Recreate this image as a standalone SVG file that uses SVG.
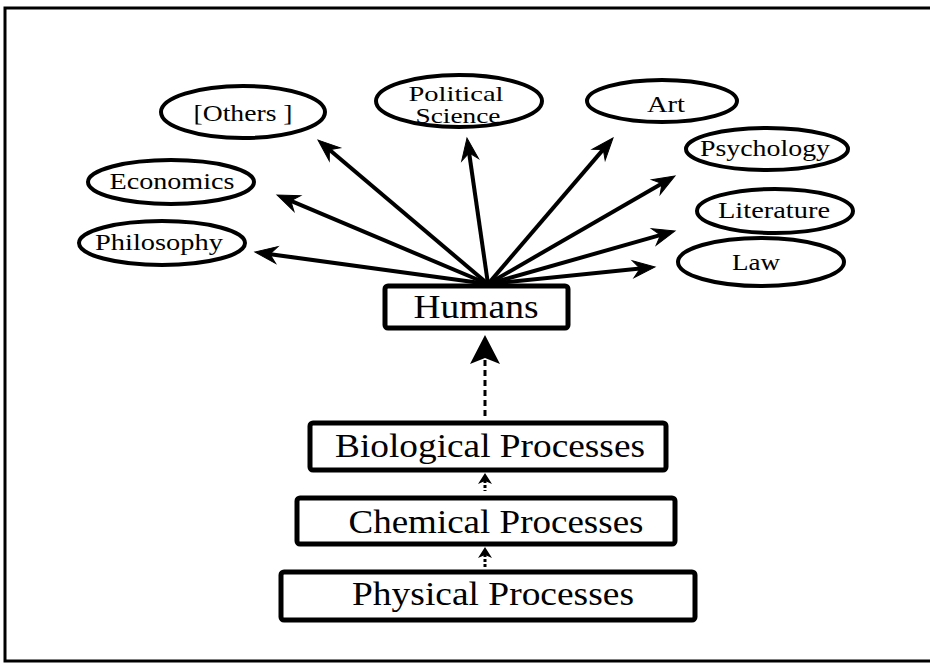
<svg xmlns="http://www.w3.org/2000/svg" width="930" height="672" viewBox="0 0 930 672">
<style>
  .frame{fill:none;stroke:#000;stroke-width:3}
  .ell{fill:#fff;stroke:#000;stroke-width:4}
  .box{fill:#fff;stroke:#000;stroke-width:5}
  .t{font-family:"Liberation Serif","Times New Roman",serif;fill:#000;text-anchor:middle}
  .s{font-size:24px}
  .p{font-size:21px}
  .b{font-size:34px}
  .ln{stroke:#000;stroke-width:4;fill:none}
  .ah{fill:#000;stroke:#000;stroke-width:1}
</style>
<defs>
  <marker id="ar" markerUnits="userSpaceOnUse" markerWidth="40" markerHeight="40" refX="0" refY="0" orient="auto" overflow="visible">
    <path class="ah" d="M10,0 L-12,-8.5 L-5,0 L-12,8.5 Z"/>
  </marker>
</defs>
<rect width="930" height="672" fill="#fff"/>
<rect class="frame" x="5" y="8" width="945" height="653"/>

<g id="connectors">
  <line class="ln" x1="488" y1="284" x2="325.6" y2="146.5" marker-end="url(#ar)"/>
  <line class="ln" x1="488" y1="284" x2="286.2" y2="198.9" marker-end="url(#ar)"/>
  <line class="ln" x1="488" y1="284" x2="264.9" y2="253.4" marker-end="url(#ar)"/>
  <line class="ln" x1="488" y1="284" x2="468.4" y2="147.9" marker-end="url(#ar)"/>
  <line class="ln" x1="488" y1="284" x2="606.5" y2="145.6" marker-end="url(#ar)"/>
  <line class="ln" x1="488" y1="284" x2="666.3" y2="181" marker-end="url(#ar)"/>
  <line class="ln" x1="488" y1="284" x2="665.4" y2="233.7" marker-end="url(#ar)"/>
  <line class="ln" x1="488" y1="284" x2="645.1" y2="268" marker-end="url(#ar)"/>
  <line x1="485" y1="360" x2="485" y2="417" stroke="#000" stroke-width="3" stroke-dasharray="6,4"/>
  <path d="M485,335 L500,364 L485,358 L470,364 Z" fill="#000"/>
  <line x1="485" y1="480" x2="485" y2="491" stroke="#000" stroke-width="3" stroke-dasharray="3,2"/>
  <path d="M485,473 L492,484 L485,481 L478,484 Z" fill="#000"/>
  <line x1="485" y1="554" x2="485" y2="568" stroke="#000" stroke-width="3" stroke-dasharray="3,2"/>
  <path d="M485,547 L492,558 L485,555 L478,558 Z" fill="#000"/>
</g>

<g id="others">
  <ellipse class="ell" cx="243" cy="112" rx="82" ry="26"/>
  <text class="t s" x="243" y="121" textLength="99" lengthAdjust="spacingAndGlyphs">[Others ]</text>
</g>
<g id="political-science">
  <ellipse class="ell" cx="459" cy="101" rx="83" ry="26"/>
  <text class="t p" x="456" y="101" textLength="95" lengthAdjust="spacingAndGlyphs">Political</text>
  <text class="t p" x="458" y="123" textLength="85" lengthAdjust="spacingAndGlyphs">Science</text>
</g>
<g id="art">
  <ellipse class="ell" cx="662" cy="101" rx="75" ry="21"/>
  <text class="t s" x="666" y="112" textLength="38" lengthAdjust="spacingAndGlyphs">Art</text>
</g>
<g id="psychology">
  <ellipse class="ell" cx="767" cy="149" rx="81" ry="21"/>
  <text class="t s" x="765" y="156" textLength="130" lengthAdjust="spacingAndGlyphs">Psychology</text>
</g>
<g id="economics">
  <ellipse class="ell" cx="171" cy="182" rx="83" ry="22"/>
  <text class="t s" x="172" y="189" textLength="125" lengthAdjust="spacingAndGlyphs">Economics</text>
</g>
<g id="literature">
  <ellipse class="ell" cx="775" cy="211" rx="78" ry="22"/>
  <text class="t s" x="774" y="218" textLength="112" lengthAdjust="spacingAndGlyphs">Literature</text>
</g>
<g id="philosophy">
  <ellipse class="ell" cx="162" cy="243" rx="83" ry="22"/>
  <text class="t s" x="159" y="250" textLength="128" lengthAdjust="spacingAndGlyphs">Philosophy</text>
</g>
<g id="law">
  <ellipse class="ell" cx="761" cy="262" rx="83" ry="24"/>
  <text class="t s" x="756" y="270" textLength="48" lengthAdjust="spacingAndGlyphs">Law</text>
</g>

<g id="humans">
  <rect class="box" x="385" y="286" width="183" height="42" rx="3"/>
  <text class="t b" x="476" y="318" textLength="125" lengthAdjust="spacingAndGlyphs">Humans</text>
</g>
<g id="biological">
  <rect class="box" x="310" y="423" width="356" height="47" rx="3"/>
  <text class="t b" x="490" y="457" textLength="310" lengthAdjust="spacingAndGlyphs">Biological Processes</text>
</g>
<g id="chemical">
  <rect class="box" x="297" y="498" width="378" height="46" rx="3"/>
  <text class="t b" x="496" y="533" textLength="295" lengthAdjust="spacingAndGlyphs">Chemical Processes</text>
</g>
<g id="physical">
  <rect class="box" x="281" y="572" width="414" height="48" rx="3"/>
  <text class="t b" x="493" y="605" textLength="282" lengthAdjust="spacingAndGlyphs">Physical Processes</text>
</g>
</svg>
